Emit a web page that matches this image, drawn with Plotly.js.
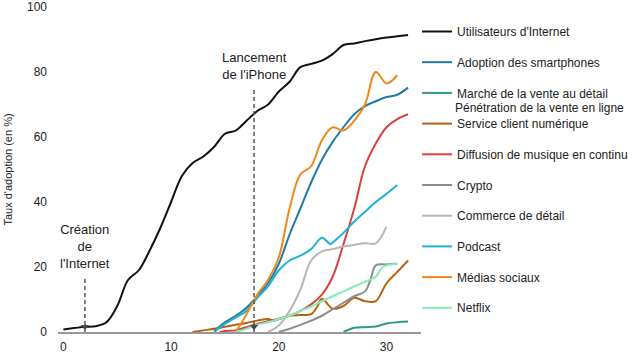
<!DOCTYPE html>
<html>
<head>
<meta charset="utf-8">
<script src="https://cdn.plot.ly/plotly-3.0.1.min.js"></script>
<style>html,body{margin:0;padding:0;background:#fff;}#chart{width:640px;height:355px;}</style>
</head>
<body>
<div id="chart"></div>
<script>
// Series names
const names = [
  "Utilisateurs d'Internet",
  "Adoption des smartphones",
  "Marché de la vente au détail",
  "Service client numérique",
  "Diffusion de musique en continu",
  "Crypto",
  "Commerce de détail",
  "Podcast",
  "Médias sociaux",
  "Netflix"
];
const legendSecondLine = "Pénétration de la vente en ligne";

// Data (x = years since start, y = adoption %)
const xInternet = [0,1,2,3,4,5,6,7,8,9,10,11,12,13,14,15,16,17,18,19,20,21,22,23,24,25,26,27,28,29,30,31,32];
const yInternet = [0.8,1.2,1.6,1.8,3,8,16,19,25,32,40,48,52,54,57,61,62,65,68,70,74,77,81.5,82.5,83.5,85.5,88.3,88.8,89.5,90.1,90.6,91,91.4];

const xSmartphone = [14,15,16,17,18,19,20,21,22,23,24,25,26,27,28,29,30,31,32];
const ySmartphone = [0.3,3,5,7.5,11,15,21,30,38,46,53,58.5,63,67,69.5,71,72.3,73,75.2];

const xRetail = [26,27,28,29,30,31,32];
const yRetail = [0,1.3,1.5,1.7,2.6,3,3.2];

const xService = [12,13,14,15,16,17,18,19,19.5,20,21,22,23,23.6,24,25,26,27,28,29,30,31,32];
const yService = [0,0.5,1,1.6,2.2,2.8,3.5,4,3.5,4,5,5.2,5.5,8,10.2,7.2,8,10.5,9.5,9.5,15,18.5,22];

const xMusic = [14.5,15,16,17,18,19,20,21,22,23,24,25,26,27,28,29,30,31,32];
const yMusic = [0,0.3,0.5,1.5,2.5,3.3,4,5,6.5,8.5,11.5,17,27,38,51,58,63,65.5,67];

const xCrypto = [20,21,22,23,24,25,26,27,28,28.5,29,30,31];
const yCrypto = [0,1,2.2,3.5,5,7,9,11,12.5,16,20.5,20.8,21];

const xCommerce = [19,20,21,22,23,24,25,26,27,28,29,30];
const yCommerce = [0,2,6.5,13,22,24.8,25.5,26.3,26.8,27.3,27.3,32.4];

const xPodcast = [14,15,16,17,18,19,20,21,22,23,24,24.8,25,26,27,28,29,30,31];
const yPodcast = [0,2.5,4.5,6.5,10.5,14,19,22,23.5,25.5,29,27,27.5,30.5,34,37,40,42.5,45.2];

const xSocial = [16,17,18,19,20,21,22,23,24,25,26,27,28,29,30,31];
const ySocial = [0,5.5,11.5,16,23,38,48.5,51,59,63,62,65,70,80,76.5,79];

const xNetflix = [16,17,18,19,20,21,22,23,24,25,26,27,28,29,29.5,30,31];
const yNetflix = [0,1,2.2,3,4,5,6.5,7.8,9.5,11,12.5,14,15.5,17,19.5,20.5,21];

// Event markers
const eventX = [2, 17.7];
const eventLabels = ["Création<br>de<br>l'Internet", "Lancement<br>de l'iPhone"];
const eventLineTop = [17, 75.4];
const eventLabelY = [18.2, 76.3];

const colors = ["#111111","#1d7ca4","#2a9a86","#b9600f","#d9413f","#8c8c8c","#b7b7ba","#1fb2d9","#f0881c","#80eeb5"];

const xs = [xInternet,xSmartphone,xRetail,xService,xMusic,xCrypto,xCommerce,xPodcast,xSocial,xNetflix];
const ys = [yInternet,ySmartphone,yRetail,yService,yMusic,yCrypto,yCommerce,yPodcast,ySocial,yNetflix];

const traces = xs.map((x, i) => ({
  x: x, y: ys[i], type: "scatter", mode: "lines", name: names[i],
  legendgroup: "g" + i,
  line: {color: colors[i], width: 2, shape: "spline", smoothing: 1}
}));

traces.push({
  x: eventX, y: [1.6, 1.6], type: "scatter", mode: "markers", showlegend: false,
  marker: {symbol: "triangle-down", size: 7, color: "#444"}, hoverinfo: "skip"
});

const shapes = eventX.map((x, i) => ({
  type: "line", xref: "x", yref: "y", x0: x, x1: x, y0: 0, y1: eventLineTop[i],
  line: {color: "#555", width: 1.5, dash: "4px,3px"}
}));

const annotations = eventX.map((x, i) => ({
  x: x, y: eventLabelY[i], xref: "x", yref: "y", text: eventLabels[i],
  showarrow: false, yanchor: "bottom", xanchor: "center",
  font: {family: "Liberation Sans, Arial, sans-serif", size: 13, color: "#222"}
}));

const W = 640, H = 355, ml = 58, mr = 212, mt = 7, mb = 23;
const pw = W - ml - mr, ph = H - mt - mb;
annotations.push({
  x: (461 - ml) / pw, y: (H - mb - 108) / ph, xref: "paper", yref: "paper", text: legendSecondLine,
  showarrow: false, xanchor: "left", yanchor: "middle",
  font: {family: "Liberation Sans, Arial, sans-serif", size: 12, color: "#222"}
});

const layout = {
  width: W, height: H,
  margin: {l: ml, r: mr, t: mt, b: mb, pad: 0},
  paper_bgcolor: "#fff", plot_bgcolor: "#fff",
  font: {family: "Liberation Sans, Arial, sans-serif", size: 12, color: "#222"},
  showlegend: true,
  xaxis: {
    range: [-0.5, 33.2], tickvals: [0,10,20,30], showgrid: false, zeroline: false,
    showline: true, linecolor: "#999", linewidth: 2, ticks: "", ticklabelstandoff: 3,
    tickfont: {size: 12, color: "#222"}
  },
  yaxis: {
    range: [0, 100], tickvals: [0,20,40,60,80,100], showgrid: false, zeroline: false,
    showline: false, ticks: "", ticklabelstandoff: 10,
    tickfont: {size: 12, color: "#222"},
    title: {text: "Taux d'adoption (en %)", font: {size: 11, color: "#222"}, standoff: 12}
  },
  legend: {
    x: (424 - ml) / pw, xanchor: "left", y: 1 - (17 - mt) / ph, yanchor: "top",
    bgcolor: "rgba(0,0,0,0)", borderwidth: 0, tracegroupgap: 11.7, valign: "middle",
    font: {size: 12, color: "#222"}
  },
  shapes: shapes,
  annotations: annotations
};

Plotly.newPlot("chart", traces, layout, {displayModeBar: false, staticPlot: true});
</script>
</body>
</html>
